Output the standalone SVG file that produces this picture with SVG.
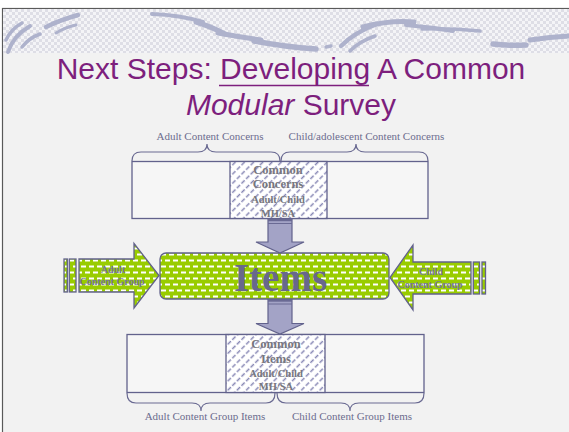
<svg xmlns="http://www.w3.org/2000/svg" width="569" height="432" viewBox="0 0 569 432">
<style>
.title{font-family:"Liberation Sans",Arial,sans-serif;font-size:30px;fill:#7d1f7d;text-anchor:middle}
.lbl{font-family:"Liberation Serif","Times New Roman",serif;font-size:11px;fill:#6c6c8e;text-anchor:middle}
.htxt{font-family:"Liberation Serif","Times New Roman",serif;font-weight:bold;fill:#77777e;text-anchor:middle}
.atxt{font-family:"Liberation Serif","Times New Roman",serif;font-weight:bold;font-size:10px;fill:#76769a;text-anchor:middle}
.edge{stroke:#62628c;stroke-width:1.3}
.brace{fill:none;stroke:#6a6a92;stroke-width:1.2}
.swoosh{fill:none;stroke:#aeb2cc;stroke-linecap:round}
.darrow{fill:#a3a3c6;stroke:#62628c;stroke-width:1.2}
</style>
<defs>
<pattern id="checker" width="6" height="6" patternUnits="userSpaceOnUse">
<rect width="6" height="6" fill="#f4f4f7"/>
<rect width="3" height="3" fill="#dedee6"/>
<rect x="3" y="3" width="3" height="3" fill="#dedee6"/>
</pattern>
<pattern id="hatch" width="6.5" height="6.5" patternUnits="userSpaceOnUse" patternTransform="rotate(45)">
<rect width="6.5" height="6.5" fill="#ffffff"/>
<line x1="1.5" y1="0" x2="1.5" y2="6.5" stroke="#8686b4" stroke-width="1.5" stroke-dasharray="4.5 2"/>
</pattern>
<pattern id="green" width="8" height="12" patternUnits="userSpaceOnUse">
<rect width="8" height="12" fill="#99cc00"/>
<rect x="1" y="1.5" width="5" height="2" fill="#ffffff"/>
<rect x="5" y="7.5" width="3" height="2" fill="#ffffff"/>
<rect x="0" y="7.5" width="2" height="2" fill="#ffffff"/>
</pattern>
</defs>

<!-- slide background -->
<rect width="569" height="432" fill="#ffffff"/>
<rect x="2.5" y="8.5" width="568" height="425" fill="#f2f2f2" stroke="#5a5a5a" stroke-width="1.2"/>
<rect x="3" y="9" width="566" height="44" fill="url(#checker)"/>
<g id="swooshes">
<path class="swoosh" stroke-width="4" d="M8,52 Q13,36 30,26"/>
<path class="swoosh" stroke-width="3.5" d="M22,47 Q29,38 40,34"/>
<path class="swoosh" stroke-width="3.5" d="M6,40 Q11,29 22,23"/>
<path class="swoosh" stroke-width="4.5" d="M46,27 Q60,20 78,15"/>
<path class="swoosh" stroke-width="3" d="M56,33 Q66,27 76,25"/>
<path class="swoosh" stroke-width="4" d="M152,14 Q180,15 203,22"/>
<path class="swoosh" stroke-width="5" d="M196,22 Q212,27 225,34"/>
<path class="swoosh" stroke-width="5" d="M218,33 Q240,37 261,40"/>
<path class="swoosh" stroke-width="5.5" d="M254,41 Q285,47 316,49"/>
<path class="swoosh" stroke-width="3.5" d="M326,47 L331,46"/>
<path class="swoosh" stroke-width="4.5" d="M341,46 Q355,32 377,24"/>
<path class="swoosh" stroke-width="3.5" d="M350,51 Q360,41 375,36"/>
<path class="swoosh" stroke-width="5" d="M363,27 Q390,20 414,22"/>
<path class="swoosh" stroke-width="4" d="M406,25 Q430,27 453,31"/>
<path class="swoosh" stroke-width="3.5" d="M422,29 Q450,28 480,31"/>
<path class="swoosh" stroke-width="5.5" d="M493,44 Q510,46 526,45"/>
<path class="swoosh" stroke-width="5" d="M530,40 Q550,37 569,36"/>
</g>

<!-- title -->
<g id="title">
<text class="title" x="291" y="79">Next Steps: Developing A Common</text>
<line x1="219" y1="85.5" x2="369" y2="85.5" stroke="#7d1f7d" stroke-width="1.5"/>
<text class="title" x="291" y="115"><tspan font-style="italic">Modular</tspan> Survey</text>
</g>

<!-- top box -->
<g id="concerns-box">
<rect x="132" y="161.5" width="296" height="57" fill="#f6f6f6" class="edge"/>
<rect x="230" y="161.5" width="97" height="57" fill="url(#hatch)" class="edge"/>
<text class="htxt" x="278" y="174" font-size="12.5">Common</text>
<text class="htxt" x="278" y="188" font-size="12.5">Concerns</text>
<text class="htxt" x="278" y="203" font-size="10.5">Adult/Child</text>
<text class="htxt" x="278" y="217" font-size="10.5">MH/SA</text>
<path class="brace" d="M132,161 Q132,152 141,152 L198,152 Q207,152 207,144 Q207,152 216,152 L271,152 Q280,152 280,161"/>
<path class="brace" d="M281,161 Q281,152 290,152 L347,152 Q356,152 356,144 Q356,152 365,152 L419,152 Q428,152 428,161"/>
<text class="lbl" x="210" y="140">Adult Content Concerns</text>
<text class="lbl" x="366.5" y="140">Child/adolescent Content Concerns</text>
</g>

<!-- items -->
<g id="items">
<rect x="160" y="253" width="229" height="46" rx="6" fill="url(#green)" class="edge"/>
<text x="280.5" y="291" font-family="'Liberation Serif','Times New Roman',serif" font-weight="bold" font-size="39" fill="#68688c" text-anchor="middle">Items</text>
</g>

<!-- adult arrow -->
<g id="adult-group">
<rect x="64" y="259" width="3.3" height="33" fill="url(#green)" class="edge"/>
<rect x="69.3" y="259" width="6.7" height="33" fill="url(#green)" class="edge"/>
<polygon points="79,259 134,259 134,243.5 159,275.5 134,308 134,292 79,292" fill="url(#green)" class="edge"/>
<text class="atxt" x="113" y="273">Adult</text>
<text class="atxt" x="112" y="284.5">Content Group</text>
</g>

<!-- child arrow -->
<g id="child-group">
<rect x="473.3" y="262" width="6.2" height="32" fill="url(#green)" class="edge"/>
<rect x="482" y="262" width="3.5" height="32" fill="url(#green)" class="edge"/>
<polygon points="471,262 413,262 413,245 390,277.5 413,310 413,294 471,294" fill="url(#green)" class="edge"/>
<text class="atxt" x="431" y="275">Child</text>
<text class="atxt" x="430" y="288">Content Group</text>
</g>

<!-- bottom box -->
<g id="items-box">
<rect x="127" y="334.5" width="297" height="58" fill="#f6f6f6" class="edge"/>
<rect x="226" y="334.5" width="99" height="58" fill="url(#hatch)" class="edge"/>
<text class="htxt" x="276" y="348" font-size="12.5">Common</text>
<text class="htxt" x="276" y="363" font-size="12.5">Items</text>
<text class="htxt" x="276" y="377" font-size="10.5">Adult/Child</text>
<text class="htxt" x="276" y="390" font-size="10.5">MH/SA</text>
<path class="brace" d="M127,393 Q127,403 136,403 L192,403 Q201,403 201,411 Q201,403 210,403 L266,403 Q275,403 275,393"/>
<path class="brace" d="M277,393 Q277,403 286,403 L341,403 Q350,403 350,411 Q350,403 359,403 L415,403 Q424,403 424,393"/>
<text class="lbl" x="205" y="420">Adult Content Group Items</text>
<text class="lbl" x="352" y="420">Child Content Group Items</text>
</g>

<!-- connectors -->
<g id="connectors">
<g id="arrow-concerns-items">
<polygon class="darrow" points="268,219 292,219 292,242 304,242 280,253 256,242 268,242"/>
<rect x="268" y="219" width="24" height="2.2" fill="#6a6a94"/>
<line x1="268" y1="223.5" x2="292" y2="223.5" stroke="#6a6a94" stroke-width="1"/>
</g>
<g id="arrow-items-box">
<polygon class="darrow" points="268,299.5 292,299.5 292,323.5 304,323.5 280,334 256,323.5 268,323.5"/>
<rect x="268" y="299.5" width="24" height="2.2" fill="#6a6a94"/>
<line x1="268" y1="304" x2="292" y2="304" stroke="#6a6a94" stroke-width="1"/>
</g>
</g>
</svg>
